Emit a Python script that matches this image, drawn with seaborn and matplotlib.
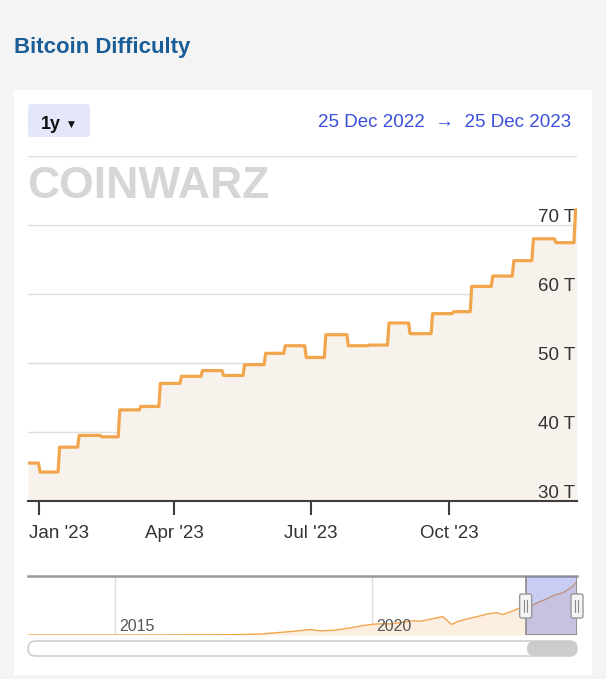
import matplotlib
matplotlib.use("Agg")
import matplotlib.pyplot as plt
import matplotlib.dates as mdates
from matplotlib.patches import FancyBboxPatch, Rectangle
from matplotlib.transforms import ScaledTranslation
import numpy as np
import pandas as pd
import seaborn as sns

W, H = 606, 679

# difficulty levels (T), with the day each level starts
level_start = ["2022-12-25", "2023-01-02", "2023-01-15", "2023-01-28", "2023-02-12",
               "2023-02-24", "2023-03-10", "2023-03-23", "2023-04-06", "2023-04-20",
               "2023-05-04", "2023-05-18", "2023-06-01", "2023-06-14", "2023-06-28",
               "2023-07-11", "2023-07-26", "2023-08-09", "2023-08-22", "2023-09-05",
               "2023-09-20", "2023-10-04", "2023-10-16", "2023-10-30", "2023-11-13",
               "2023-11-26", "2023-12-11", "2023-12-24"]
difficulty_t = [35.5, 34.2, 37.8, 39.5, 39.3, 43.2, 43.7, 47.05, 48.07, 48.9,
                48.2, 49.76, 51.4, 52.5, 50.8, 54.1, 52.5, 52.6, 55.8, 54.25,
                57.15, 57.44, 61.1, 62.6, 64.83, 68.0, 67.44, 72.2]
series_end = "2023-12-25"

tick_dates = ["2023-01-01", "2023-04-01", "2023-07-01", "2023-10-01"]
tick_labels = ["Jan '23", "Apr '23", "Jul '23", "Oct '23"]
y_ticks = [30, 40, 50, 60, 70]

# navigator (full history, rough)
nav_dates = ["2013-04-20", "2014-06-01", "2015-06-01", "2016-06-01", "2017-01-01",
             "2017-07-01", "2017-11-01", "2018-03-01", "2018-07-01", "2018-10-15",
             "2019-01-01", "2019-04-01", "2019-06-01", "2019-09-01", "2019-11-01",
             "2020-02-01", "2020-05-15", "2020-07-01", "2020-10-15", "2020-12-01",
             "2021-02-01", "2021-05-15", "2021-06-15", "2021-07-15", "2021-09-01",
             "2021-11-01", "2022-01-01", "2022-04-01", "2022-06-01", "2022-07-15",
             "2022-09-15", "2022-11-15", "2022-12-15", "2023-01-15", "2023-03-15",
             "2023-05-15", "2023-07-15", "2023-09-15", "2023-11-15", "2023-12-25"]
nav_difficulty = [0.01, 0.01, 0.05, 0.2, 0.3, 0.7, 1.3, 3.3, 5.2, 7.4,
                  5.6, 6.4, 7.9, 10.8, 13.0, 15.0, 15.1, 16.5, 19.3, 18.6,
                  20.8, 25.0, 19.9, 14.4, 18.4, 21.7, 24.3, 28.6, 30.3, 27.7,
                  32.0, 36.9, 34.2, 37.6, 43.5, 48.2, 53.9, 57.1, 64.7, 72.0]
nav_years = ["2015-01-01", "2020-01-01"]
nav_year_labels = ["2015", "2020"]
selection = ["2022-12-25", "2023-12-25"]

sns.set_theme(style="white")
plt.rcParams['font.family'] = ['Liberation Sans', 'DejaVu Sans']

# step series: each level held until the day before the next one
starts = pd.to_datetime(level_start)
ends = list(starts[1:] - pd.Timedelta(days=1)) + [pd.Timestamp(series_end)]
rows = []
for s, e, v in zip(starts, ends, difficulty_t):
    rows.append((s, v))
    rows.append((e, v))
main = pd.DataFrame(rows, columns=["date", "difficulty"])
nav_df = pd.DataFrame({"date": pd.to_datetime(nav_dates), "difficulty": nav_difficulty})

orange = "#f1a54c"

fig = plt.figure(figsize=(W / 100, H / 100), dpi=100, facecolor="#f4f4f4")

# background layer in pixel coords
bg = fig.add_axes([0, 0, 1, 1], zorder=-5)
bg.set_xlim(0, W)
bg.set_ylim(H, 0)
bg.axis("off")
bg.add_patch(Rectangle((14, 90), 578, 585, fc="white", ec="none"))
bg.add_patch(FancyBboxPatch((28, 104), 62, 33, boxstyle="round,pad=0,rounding_size=3",
                            fc="#e4e6fa", ec="none"))
bg.text(14, 53, "Bitcoin Difficulty", fontsize=16, weight="bold", color="#1b5d97", va="baseline")
bg.text(41, 129, "1y", fontsize=13, weight="bold", color="#111111", va="baseline")
bg.text(68, 127, "▼", fontsize=6.5, family="DejaVu Sans", color="#111111", va="baseline")
bg.text(571, 127, "25 Dec 2022  →  25 Dec 2023", ha="right", va="baseline",
        fontsize=13.5, color="#3b4fd9")
bg.text(27, 198, "COINWARZ", fontsize=32, weight="bold", color="#d6d6d6", va="baseline")

# main chart
ax = fig.add_axes([28 / W, 1 - 501 / H, 549 / W, 345 / H])
ax.set_facecolor("none")
ax.fill_between(main["date"], main["difficulty"], 30, color="#f8f2ed", lw=0, zorder=1)
sns.lineplot(data=main, x="date", y="difficulty", ax=ax, color=orange, lw=2.3,
             estimator=None, sort=False, zorder=3)
ax.set_xlim(pd.Timestamp("2022-12-25"), pd.Timestamp(series_end))
ax.set_ylim(30, 80)
ax.set_xlabel("")
ax.set_ylabel("")
ax.set_yticks(range(30, 81, 10))
ax.set_yticklabels([])
ax.tick_params(axis="y", length=0)
ax.grid(axis="y", color="#dedede", lw=1)
ax.grid(axis="x", visible=False)
ax.set_axisbelow(True)
for s in ["top", "left", "right"]:
    ax.spines[s].set_visible(False)
ax.spines["bottom"].set_color("#3d3d3d")
ax.spines["bottom"].set_linewidth(1.5)
ax.set_xticks(pd.to_datetime(tick_dates))
ax.set_xticklabels(tick_labels)
ax.tick_params(axis="x", bottom=True, length=10, width=1.5, color="#3d3d3d", pad=7,
               labelsize=13.5, labelcolor="#333333")
first = ax.get_xticklabels()[0]
first.set_ha("left")
first.set_transform(first.get_transform() + ScaledTranslation(-0.10, 0, fig.dpi_scale_trans))

for v in y_ticks:
    ax.text(1, v, f"{v} T", transform=ax.get_yaxis_transform() + ScaledTranslation(-0.02, 0.03, fig.dpi_scale_trans),
            ha="right", va="baseline", fontsize=13.5, color="#333333", zorder=2)

# navigator
nav = fig.add_axes([28 / W, 1 - 635 / H, 549 / W, 59 / H])
nav.set_facecolor("none")
nav.fill_between(nav_df["date"], nav_df["difficulty"], 0, color="#fcefe1", lw=0)
sns.lineplot(data=nav_df, x="date", y="difficulty", ax=nav, color=orange, lw=1)
nav.set_xlim(pd.Timestamp("2013-04-20"), pd.Timestamp(series_end))
nav.set_ylim(0, 80)
nav.set_xlabel("")
nav.set_ylabel("")
nav.set_yticks([])
nav.set_xticks(pd.to_datetime(nav_years))
nav.set_xticklabels([])
nav.tick_params(axis="x", length=0)
nav.grid(axis="x", color="#dddddd", lw=1)
nav.set_axisbelow(True)
for s in ["left", "right", "bottom"]:
    nav.spines[s].set_visible(False)
nav.spines["top"].set_color("#999999")
nav.spines["top"].set_linewidth(1.8)
for d, lab in zip(pd.to_datetime(nav_years), nav_year_labels):
    nav.text(d, 0.07, lab, transform=nav.get_xaxis_transform() + ScaledTranslation(0.04, 0, fig.dpi_scale_trans),
             ha="left", va="baseline", fontsize=11.5, color="#555555")
sel = pd.to_datetime(selection)
nav.axvspan(sel[0], sel[1], fc=(0.40, 0.44, 0.88, 0.35), ec="#8a8a8a", lw=1.2, zorder=4)

# foreground layer: navigator handles and scrollbar
fg = fig.add_axes([0, 0, 1, 1], zorder=10)
fg.set_xlim(0, W)
fg.set_ylim(H, 0)
fg.axis("off")
for d in sel:
    xd = nav.transData.transform((mdates.date2num(d), 0))[0]
    fg.add_patch(FancyBboxPatch((xd - 6, 594), 12, 24, boxstyle="round,pad=0,rounding_size=2",
                                fc="#f4f4f4", ec="#999999", lw=1))
    for dx in (-1.5, 1.5):
        fg.plot([xd + dx, xd + dx], [600, 612], color="#888888", lw=0.8)
fg.add_patch(FancyBboxPatch((28, 641), 549, 15, boxstyle="round,pad=0,rounding_size=7.5",
                            fc="white", ec="#cfcfcf", lw=1.2))
fg.add_patch(FancyBboxPatch((527, 641), 50, 15, boxstyle="round,pad=0,rounding_size=7.5",
                            fc="#cccccc", ec="none"))

fig.savefig("out.png", dpi=100)
